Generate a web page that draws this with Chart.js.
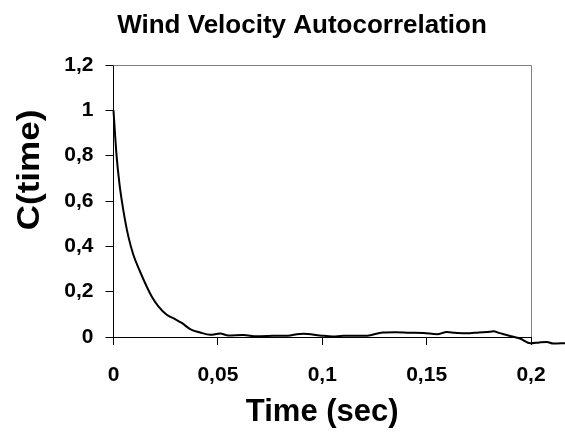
<!DOCTYPE html>
<html>
<head>
<meta charset="utf-8">
<script src="https://cdn.jsdelivr.net/npm/chart.js@4/dist/chart.umd.min.js"></script>
<style>
  html, body { margin: 0; padding: 0; background: #fff; }
  #wrap { width: 565px; height: 435px; position: relative; }
</style>
</head>
<body>
<div id="wrap"><canvas id="chart"></canvas></div>
<script>
// ── data ─────────────────────────────────────────────────────
const chartTitle = "Wind Velocity Autocorrelation";
const xTitle     = "Time (sec)";
const yTitle     = "C(time)";

const times = [0, 0.0007, 0.0015, 0.0028, 0.0039, 0.0055, 0.0071, 0.0095, 0.0127, 0.0159,
  0.0183, 0.0215, 0.0255, 0.0295, 0.0327, 0.0367, 0.0415, 0.0463, 0.0511, 0.055,
  0.0622, 0.0686, 0.0766, 0.0846, 0.0878, 0.091, 0.0988, 0.105, 0.110, 0.1215,
  0.129, 0.135, 0.142, 0.1485, 0.155, 0.1597, 0.1635, 0.169, 0.175, 0.1805,
  0.182, 0.185, 0.188, 0.191, 0.195, 0.1997, 0.204, 0.2075, 0.2107, 0.2166];
const corr = [1.0, 0.90, 0.797, 0.68, 0.606, 0.517, 0.444, 0.363, 0.289, 0.223,
  0.179, 0.135, 0.098, 0.079, 0.062, 0.035, 0.020, 0.010, 0.015, 0.007,
  0.009, 0.003, 0.005, 0.007, 0.012, 0.014, 0.007, 0.002, 0.005, 0.006,
  0.020, 0.021, 0.019, 0.018, 0.012, 0.022, 0.019, 0.016, 0.020, 0.023,
  0.025, 0.017, 0.010, 0.002, -0.008, -0.028, -0.024, -0.022, -0.029, -0.027];

const xTicks = [0, 0.05, 0.1, 0.15, 0.2];
const yTicks = [0, 0.2, 0.4, 0.6, 0.8, 1, 1.2];

const FONT = "'Liberation Sans', Arial, sans-serif";
const comma = (v) => String(+(+v).toFixed(3)).replace(".", ",");

// plot frame (top/right border) plus title and y label, Excel style
const excelFrame = {
  id: "excelFrame",
  afterDraw(chart) {
    const { ctx, chartArea: a } = chart;
    ctx.save();
    ctx.strokeStyle = "#808080";
    ctx.lineWidth = 1;
    ctx.beginPath();
    ctx.moveTo(a.left, a.top + 0.5);
    ctx.lineTo(a.right + 0.5, a.top + 0.5);
    ctx.lineTo(a.right + 0.5, a.bottom);
    ctx.stroke();

    ctx.fillStyle = "#000";
    ctx.font = "bold 26px " + FONT;
    ctx.textAlign = "center";
    ctx.textBaseline = "alphabetic";
    ctx.fillText(chartTitle, 302, 33);

    // Excel stretches the rotated label a little along its length
    ctx.font = "bold 31px " + FONT;
    ctx.translate(30, 170);
    ctx.rotate(-Math.PI / 2);
    ctx.scale(1.13, 1);
    ctx.textBaseline = "middle";
    ctx.fillText(yTitle, 0, 0);
    ctx.restore();
  },
};

new Chart(document.getElementById("chart"), {
  type: "line",
  data: {
    datasets: [{
      data: times.map((t, i) => ({ x: t, y: corr[i] })),
      borderColor: "#000",
      borderWidth: 2,
      pointRadius: 0,
      cubicInterpolationMode: "monotone",
      fill: false,
      clip: false,
    }],
  },
  options: {
    responsive: true,
    maintainAspectRatio: false,
    animation: false,
    layout: { padding: { left: 0, right: 34, top: 65, bottom: 0 } },
    plugins: { legend: { display: false }, tooltip: { enabled: false }, title: { display: false } },
    scales: {
      x: {
        type: "linear",
        // range set after data limits so the trace past 0,2 is still drawn
        afterDataLimits: (s) => { s.min = 0; s.max = 0.2; },
        afterBuildTicks: (s) => { s.ticks = xTicks.map((v) => ({ value: v })); },
        afterFit: (s) => { s.height = 98; },
        ticks: { callback: comma, color: "#000", font: { family: FONT, size: 21, weight: "bold" }, padding: 18, maxRotation: 0 },
        grid: { drawOnChartArea: false, drawTicks: true, tickLength: 8, color: "#000" },
        border: { color: "#000", width: 1 },
        title: { display: true, text: xTitle, color: "#000", font: { family: FONT, size: 31, weight: "bold" }, padding: { top: 0, bottom: 4 } },
      },
      y: {
        min: 0,
        max: 1.2,
        afterBuildTicks: (s) => { s.ticks = yTicks.map((v) => ({ value: v })); },
        afterFit: (s) => { s.width = 113.5; },
        ticks: { callback: comma, color: "#000", font: { family: FONT, size: 21, weight: "bold" }, padding: 12 },
        grid: { drawOnChartArea: false, drawTicks: true, tickLength: 8, color: "#000" },
        border: { color: "#000", width: 1 },
      },
    },
  },
  plugins: [excelFrame],
});
</script>
</body>
</html>
